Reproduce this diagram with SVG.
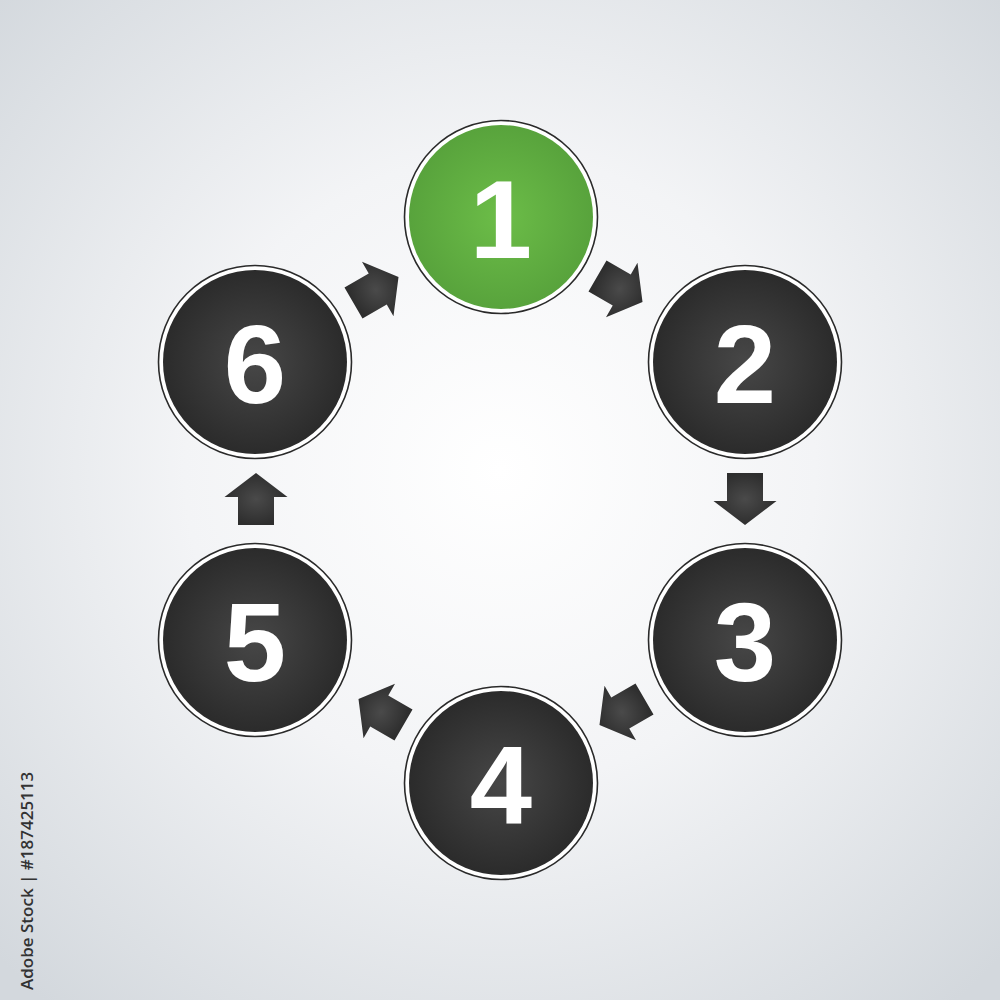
<svg xmlns="http://www.w3.org/2000/svg" width="1000" height="1000" viewBox="0 0 1000 1000">
  <defs>
    <radialGradient id="bg" cx="500" cy="470" r="700" gradientUnits="userSpaceOnUse">
      <stop offset="0" stop-color="#ffffff"/>
      <stop offset="0.45" stop-color="#f3f4f6"/>
      <stop offset="1" stop-color="#d3d8dd"/>
    </radialGradient>
    <radialGradient id="dark" cx="0.5" cy="0.5" r="0.5">
      <stop offset="0" stop-color="#474747"/>
      <stop offset="1" stop-color="#2b2b2b"/>
    </radialGradient>
    <radialGradient id="green" cx="0.5" cy="0.5" r="0.5">
      <stop offset="0" stop-color="#6cbd48"/>
      <stop offset="1" stop-color="#58a33c"/>
    </radialGradient>
    <radialGradient id="arrowFill" cx="0.5" cy="0.5" r="0.5">
      <stop offset="0" stop-color="#4a4a4a"/>
      <stop offset="1" stop-color="#2e2e2e"/>
    </radialGradient>
    <path id="arrow" d="M-26,-18 L2,-18 L2,-31.5 L26,0 L2,31.5 L2,18 L-26,18 Z"/>
  </defs>
  <style>
    .ring { fill: #ffffff; stroke: #2a2a2a; stroke-width: 1.6; }
    .dark { fill: url(#dark); }
    .green { fill: url(#green); }
    .num { font-family: "Liberation Sans", Arial, sans-serif; font-weight: bold; font-size: 112px; fill: #ffffff; text-anchor: middle; }
    .arr { fill: url(#arrowFill); }
    .credit { font-family: "Open Sans", "Noto Sans", sans-serif; font-weight: 600; font-size: 17px; fill: #333333; }
  </style>

  <rect x="0" y="0" width="1000" height="1000" fill="url(#bg)"/>

  <g id="connectors">
    <use href="#arrow" class="arr" transform="translate(620,289) rotate(30)"/>
    <use href="#arrow" class="arr" transform="translate(745,499) rotate(90)"/>
    <use href="#arrow" class="arr" transform="translate(622,712) rotate(150)"/>
    <use href="#arrow" class="arr" transform="translate(381,712) rotate(210)"/>
    <use href="#arrow" class="arr" transform="translate(256,499) rotate(-90)"/>
    <use href="#arrow" class="arr" transform="translate(376,290) rotate(-30)"/>
  </g>

  <g id="node1">
    <circle class="ring" cx="501" cy="217" r="96.5"/>
    <circle class="green" cx="501" cy="217" r="92"/>
    <text class="num" x="501" y="258">1</text>
  </g>
  <g id="node2">
    <circle class="ring" cx="745" cy="362" r="96.5"/>
    <circle class="dark" cx="745" cy="362" r="92"/>
    <text class="num" x="745" y="403">2</text>
  </g>
  <g id="node3">
    <circle class="ring" cx="745" cy="640" r="96.5"/>
    <circle class="dark" cx="745" cy="640" r="92"/>
    <text class="num" x="745" y="681">3</text>
  </g>
  <g id="node4">
    <circle class="ring" cx="501" cy="783" r="96.5"/>
    <circle class="dark" cx="501" cy="783" r="92"/>
    <text class="num" x="501" y="824">4</text>
  </g>
  <g id="node5">
    <circle class="ring" cx="255" cy="640" r="96.5"/>
    <circle class="dark" cx="255" cy="640" r="92"/>
    <text class="num" x="255" y="681">5</text>
  </g>
  <g id="node6">
    <circle class="ring" cx="255" cy="362" r="96.5"/>
    <circle class="dark" cx="255" cy="362" r="92"/>
    <text class="num" x="255" y="403">6</text>
  </g>

  <text class="credit" transform="translate(33,990) rotate(-90)">Adobe Stock | #187425113</text>
</svg>
